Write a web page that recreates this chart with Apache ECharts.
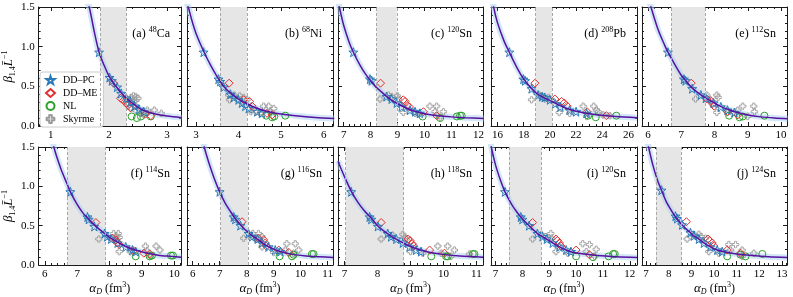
<!DOCTYPE html>
<html><head><meta charset="utf-8">
<script src="https://cdn.jsdelivr.net/npm/echarts@6/dist/echarts.min.js"></script>
<style>html,body{margin:0;padding:0;background:#fff}#c{width:793px;height:297px}</style>
</head><body><div id="c"></div>
<script>
// ---------- panel meta ----------
const panelTags = ['(a)','(b)','(c)','(d)','(e)','(f)','(g)','(h)','(i)','(j)'];
const massNumbers = ['48','68','120','208','112','114','116','118','120','124'];
const elements = ['Ca','Ni','Sn','Pb','Sn','Sn','Sn','Sn','Sn','Sn'];
const xMins = [0.79, 2.79, 6.79, 15.5, 5.82, 5.81, 5.79, 6.8, 6.83, 6.82];
const xMaxs = [3.24, 6.22, 12.17, 26.65, 10.18, 10.21, 11.2, 11.2, 12.27, 13.22];
const xMajorTicks = [[1,2,3],[3,4,5,6],[7,8,9,10,11,12],[16,18,20,22,24,26],[6,7,8,9,10],
  [6,7,8,9,10],[6,7,8,9,10,11],[7,8,9,10,11],[7,8,9,10,11,12],[7,8,9,10,11,12,13]];
const xMinorSteps = [0.2,0.2,0.2,0.5,0.2,0.2,0.2,0.2,0.2,0.2];
const yTicks = [0, 0.5, 1.0, 1.5];
const bandLo = [1.85, 3.57, 8.22, 18.9, 6.7, 6.7, 7.03, 7.03, 7.5, 7.44];
const bandHi = [2.30, 4.20, 8.97, 20.17, 7.72, 7.88, 8.05, 8.79, 8.71, 8.56];
const seriesNames = ['DD\u2013PC','DD\u2013ME','NL','Skyrme'];

// ---------- fitted curves ----------
const curveA = [[1.60,1.62],[1.66,1.5],[1.75,1.18],[1.83,0.93],[1.92,0.76],[2.0,0.63],[2.1,0.52],[2.2,0.43],[2.3,0.35],[2.4,0.29],[2.5,0.235],[2.6,0.195],[2.8,0.15],[3.0,0.125],[3.25,0.105]];
const curveB = [[2.78,1.55],[2.82,1.5],[2.9,1.34],[3.0,1.17],[3.1,1.04],[3.2,0.92],[3.35,0.76],[3.5,0.62],[3.65,0.5],[3.8,0.42],[4.0,0.34],[4.2,0.28],[4.4,0.23],[4.7,0.18],[5.0,0.15],[5.4,0.125],[5.8,0.108],[6.25,0.095]];
const curveC = [[6.8,1.58],[6.84,1.5],[7.0,1.27],[7.2,1.06],[7.36,0.93],[7.6,0.77],[7.8,0.66],[8.0,0.57],[8.2,0.49],[8.4,0.43],[8.6,0.37],[8.8,0.32],[9.0,0.28],[9.3,0.23],[9.6,0.19],[10.0,0.155],[10.5,0.13],[11.0,0.115],[11.5,0.105],[12.2,0.095]];
const curveD = [[15.5,1.72],[15.7,1.5],[16.0,1.3],[16.5,1.07],[16.9,0.93],[17.5,0.73],[18.0,0.59],[18.5,0.49],[19.0,0.41],[19.5,0.36],[20.0,0.32],[20.5,0.28],[21.0,0.24],[21.5,0.21],[22.0,0.185],[23.0,0.155],[24.0,0.135],[25.0,0.12],[26.65,0.105]];
const curveE = [[6.0,1.65],[6.09,1.5],[6.3,1.22],[6.5,1.02],[6.6,0.93],[6.8,0.78],[7.0,0.64],[7.1,0.59],[7.3,0.49],[7.5,0.42],[7.7,0.36],[8.0,0.29],[8.2,0.245],[8.4,0.21],[8.6,0.18],[9.0,0.14],[9.4,0.115],[9.8,0.1],[10.2,0.09]];
const curveF = [[6.2,1.7],[6.28,1.5],[6.5,1.22],[6.7,1.02],[6.79,0.93],[7.0,0.77],[7.2,0.65],[7.32,0.6],[7.5,0.52],[7.7,0.45],[7.85,0.4],[8.05,0.34],[8.25,0.29],[8.5,0.235],[8.8,0.19],[9.1,0.155],[9.5,0.125],[9.9,0.11],[10.22,0.1]];
const curveG = [[6.38,1.6],[6.43,1.5],[6.6,1.3],[6.8,1.1],[7.0,0.93],[7.2,0.79],[7.4,0.68],[7.6,0.58],[7.8,0.5],[8.07,0.41],[8.3,0.35],[8.55,0.29],[8.8,0.235],[9.05,0.195],[9.3,0.165],[9.7,0.135],[10.2,0.115],[10.7,0.105],[11.2,0.095]];
const curveH = [[6.8,1.32],[7.0,1.12],[7.2,0.94],[7.4,0.8],[7.6,0.69],[7.8,0.6],[8.0,0.5],[8.2,0.43],[8.4,0.37],[8.6,0.32],[8.8,0.275],[9.0,0.235],[9.3,0.19],[9.6,0.16],[10.0,0.135],[10.5,0.115],[11.2,0.1]];
const curveI = [[6.8,1.58],[6.84,1.5],[7.0,1.27],[7.2,1.06],[7.35,0.93],[7.6,0.77],[7.8,0.67],[7.94,0.61],[8.1,0.55],[8.25,0.5],[8.4,0.45],[8.56,0.4],[8.75,0.36],[8.9,0.33],[9.13,0.28],[9.38,0.23],[9.63,0.19],[9.9,0.16],[10.3,0.14],[10.8,0.12],[11.5,0.105],[12.27,0.095]];
const curveJ = [[7.05,1.6],[7.11,1.5],[7.3,1.27],[7.5,1.08],[7.68,0.95],[7.9,0.8],[8.1,0.7],[8.3,0.61],[8.59,0.51],[8.8,0.45],[8.96,0.41],[9.11,0.37],[9.33,0.33],[9.55,0.28],[9.84,0.23],[10.14,0.19],[10.5,0.165],[11.0,0.14],[11.7,0.12],[12.4,0.105],[13.22,0.095]];

// ---------- DD-PC ----------
const ddpcA = [[1.83,0.93],[2.01,0.61],[2.05,0.57],[2.14,0.49],[2.21,0.41],[2.3,0.35],[2.37,0.3],[2.44,0.25],[2.52,0.21],[2.6,0.18]];
const ddpcB = [[3.18,0.93],[3.53,0.59],[3.57,0.56],[3.65,0.49],[3.81,0.4],[3.89,0.36],[4.0,0.33],[4.08,0.29],[4.16,0.25],[4.24,0.22],[4.44,0.18],[4.55,0.16]];
const ddpcC = [[7.36,0.93],[7.98,0.59],[8.04,0.57],[8.59,0.37],[8.78,0.34],[8.97,0.29],[9.15,0.24],[9.46,0.2],[9.65,0.18],[9.83,0.16]];
const ddpcD = [[16.9,0.93],[17.97,0.59],[18.1,0.57],[18.6,0.47],[19.1,0.39],[19.4,0.37],[19.6,0.36],[20.0,0.33],[20.4,0.28],[20.8,0.24],[21.5,0.2],[22.0,0.18],[22.8,0.16]];
const ddpcE = [[6.6,0.93],[7.08,0.59],[7.13,0.57],[7.33,0.47],[7.59,0.39],[7.74,0.35],[7.97,0.29],[8.19,0.24],[8.39,0.2],[8.6,0.17]];
const ddpcF = [[6.79,0.93],[7.32,0.61],[7.36,0.58],[7.53,0.49],[7.85,0.4],[7.93,0.36],[8.05,0.33],[8.25,0.28],[8.5,0.23],[8.71,0.19],[8.81,0.17]];
const ddpcG = [[7.0,0.93],[7.52,0.61],[7.58,0.58],[7.77,0.5],[8.07,0.4],[8.2,0.36],[8.41,0.33],[8.57,0.28],[8.81,0.23],[9.06,0.19],[9.25,0.17]];
const ddpcH = [[7.2,0.93],[7.76,0.61],[7.81,0.58],[8.01,0.49],[8.31,0.4],[8.41,0.36],[8.57,0.33],[8.77,0.28],[8.97,0.23],[9.17,0.19],[9.32,0.17]];
const ddpcI = [[7.35,0.93],[7.94,0.61],[8.0,0.58],[8.25,0.5],[8.56,0.4],[8.75,0.36],[8.91,0.33],[9.13,0.28],[9.38,0.23],[9.63,0.19],[9.81,0.17]];
const ddpcJ = [[7.68,0.95],[8.3,0.62],[8.37,0.59],[8.59,0.51],[8.96,0.41],[9.11,0.37],[9.33,0.33],[9.55,0.28],[9.84,0.23],[10.14,0.19],[10.36,0.17]];

// ---------- DD-ME ----------
const ddmeA = [[2.08,0.54],[2.2,0.35],[2.25,0.32],[2.3,0.29],[2.33,0.26],[2.37,0.23],[2.63,0.15],[2.72,0.13]];
const ddmeB = [[3.78,0.54],[4.12,0.33],[4.26,0.31],[4.32,0.25],[4.67,0.16],[4.79,0.14]];
const ddmeC = [[8.37,0.54],[9.21,0.33],[9.28,0.31],[9.36,0.26],[9.44,0.24],[9.96,0.18],[10.45,0.13]];
const ddmeD = [[18.86,0.54],[20.38,0.34],[20.89,0.31],[21.09,0.29],[21.32,0.25],[22.84,0.18],[24.31,0.13]];
const ddmeE = [[7.3,0.54],[7.77,0.34],[7.89,0.32],[7.94,0.28],[7.99,0.25],[8.39,0.18],[8.7,0.14]];
const ddmeF = [[7.58,0.54],[8.1,0.34],[8.2,0.32],[8.25,0.28],[8.3,0.26],[8.74,0.18],[9.06,0.15],[9.24,0.14]];
const ddmeG = [[7.83,0.55],[8.44,0.34],[8.63,0.32],[8.69,0.28],[8.73,0.24],[9.19,0.19],[9.56,0.16]];
const ddmeH = [[8.11,0.54],[8.92,0.33],[8.99,0.31],[9.05,0.27],[9.1,0.24],[9.58,0.19],[10.03,0.15]];
const ddmeI = [[8.38,0.54],[9.25,0.33],[9.31,0.31],[9.38,0.28],[9.44,0.24],[10.0,0.19],[10.5,0.13]];
const ddmeJ = [[8.78,0.55],[9.73,0.33],[9.81,0.31],[9.92,0.28],[9.99,0.24],[10.58,0.19],[11.17,0.15]];

// ---------- NL ----------
const nlA = [[2.39,0.12],[2.48,0.10],[2.55,0.12],[2.72,0.12]];
const nlB = [[4.65,0.13],[4.79,0.11],[4.84,0.12],[5.1,0.13]];
const nlC = [[9.93,0.12],[10.58,0.10],[11.2,0.12],[11.32,0.13],[11.38,0.13]];
const nlD = [[22.92,0.13],[23.5,0.11],[25.07,0.13]];
const nlE = [[8.44,0.13],[8.75,0.11],[8.85,0.12],[9.5,0.13]];
const nlF = [[8.81,0.11],[9.24,0.11],[9.31,0.12],[9.9,0.12],[9.96,0.12]];
const nlG = [[9.22,0.11],[9.68,0.11],[9.74,0.13],[10.42,0.14],[10.48,0.14]];
const nlH = [[9.63,0.11],[10.08,0.11],[10.13,0.11],[10.89,0.14],[10.94,0.14]];
const nlI = [[10.0,0.11],[10.63,0.1],[11.21,0.11],[11.38,0.14],[11.44,0.14]];
const nlJ = [[10.58,0.11],[11.17,0.13],[11.39,0.11],[12.13,0.14]];

// ---------- Skyrme ----------
const skA = [[2.35,0.33],[2.38,0.36],[2.42,0.38],[2.46,0.37],[2.5,0.35],[2.42,0.31],[2.46,0.32],[2.38,0.22],[2.47,0.19],[2.55,0.16],[2.6,0.14],[2.66,0.2],[2.78,0.2],[2.9,0.16]];
const skB = [[3.77,0.39],[3.9,0.39],[4.03,0.38],[4.12,0.36],[3.79,0.33],[4.2,0.33],[4.29,0.18],[4.41,0.18],[4.59,0.25],[4.71,0.25],[4.83,0.22],[4.51,0.16],[4.75,0.18]];
const skC = [[8.35,0.34],[8.66,0.39],[8.78,0.37],[8.99,0.38],[9.03,0.34],[9.21,0.17],[9.65,0.16],[9.77,0.15],[10.2,0.25],[10.45,0.25],[10.7,0.18],[10.39,0.18],[10.58,0.11]];
const skD = [[18.6,0.33],[19.19,0.39],[19.55,0.37],[19.88,0.36],[19.62,0.34],[20.71,0.17],[21.52,0.16],[22.54,0.25],[23.35,0.25],[23.55,0.2],[23.68,0.18],[24.06,0.14],[24.57,0.13],[22.8,0.12]];
const skE = [[7.43,0.34],[7.77,0.39],[8.07,0.39],[8.11,0.36],[8.07,0.17],[8.39,0.17],[8.85,0.25],[9.18,0.25],[9.2,0.18],[9.0,0.12],[8.7,0.2]];
const skF = [[7.67,0.33],[8.13,0.4],[8.27,0.4],[8.2,0.36],[8.3,0.35],[8.3,0.17],[8.64,0.17],[9.11,0.24],[9.44,0.24],[9.56,0.19],[9.16,0.18],[9.26,0.11]];
const skG = [[7.89,0.34],[8.23,0.4],[8.44,0.4],[8.57,0.36],[8.32,0.33],[8.57,0.23],[9.0,0.16],[9.49,0.27],[9.8,0.27],[9.93,0.19],[9.43,0.19],[9.74,0.15]];
const skH = [[8.11,0.33],[8.46,0.38],[8.77,0.39],[8.82,0.35],[8.87,0.33],[9.0,0.17],[9.37,0.15],[9.83,0.24],[10.13,0.24],[10.33,0.19],[9.93,0.15],[10.23,0.11],[10.79,0.14]];
const skI = [[8.38,0.33],[8.71,0.39],[8.88,0.36],[9.06,0.4],[9.09,0.34],[9.25,0.17],[9.69,0.15],[10.25,0.27],[10.5,0.26],[10.75,0.2],[10.38,0.17],[10.69,0.11]];
const skJ = [[8.81,0.33],[9.11,0.39],[9.33,0.39],[9.43,0.36],[9.62,0.34],[9.77,0.17],[10.21,0.15],[10.65,0.26],[10.95,0.26],[10.73,0.19],[11.24,0.19],[11.76,0.15],[11.24,0.11]];

const curves = [curveA,curveB,curveC,curveD,curveE,curveF,curveG,curveH,curveI,curveJ];
const ddpc = [ddpcA,ddpcB,ddpcC,ddpcD,ddpcE,ddpcF,ddpcG,ddpcH,ddpcI,ddpcJ];
const ddme = [ddmeA,ddmeB,ddmeC,ddmeD,ddmeE,ddmeF,ddmeG,ddmeH,ddmeI,ddmeJ];
const nl = [nlA,nlB,nlC,nlD,nlE,nlF,nlG,nlH,nlI,nlJ];
const sk = [skA,skB,skC,skD,skE,skF,skG,skH,skI,skJ];

// ---------- layout / style ----------
const FONT = '"Liberation Serif","DejaVu Serif",serif';
const colLeft = [36,187,338,491,642], colWidth = [145,146,145,146,145];
const rowTop = [7,147], rowHeight = [119,118];
const frame = '#1a1a1a';
const STAR = 'path://M0,-10L2.35,-3.24L9.51,-3.09L3.8,1.24L5.88,8.09L0,4L-5.88,8.09L-3.8,1.24L-9.51,-3.09L-2.35,-3.24Z';
const PLUS = 'path://M-1.1,-3.2Q0,-3.6 1.1,-3.2L1.1,-1.1L3.2,-1.1Q3.6,0 3.2,1.1L1.1,1.1L1.1,3.2Q0,3.6 -1.1,3.2L-1.1,1.1L-3.2,1.1Q-3.6,0 -3.2,-1.1L-1.1,-1.1Z';
const markerStyle = [
  {sym: STAR, size: 9, color: '#2a7ab8', bw: 1.0},
  {sym: 'diamond', size: 8, color: '#e03030', bw: 1.0},
  {sym: 'circle', size: 7, color: '#2ca02c', bw: 1.0},
  {sym: PLUS, size: 6.5, color: '#9a9a9a', bw: 0.9}
];

function minorValues(p) {
  const out = [], st = xMinorSteps[p];
  const start = Math.ceil(xMins[p] / st - 1e-9);
  for (let k = start; k * st <= xMaxs[p] + 1e-9; k++) out.push(+(k * st).toFixed(4));
  return out;
}

const grids = [], xAxes = [], yAxes = [], series = [], titles = [];
for (let p = 0; p < 10; p++) {
  const r = Math.floor(p / 5), c = p % 5;
  grids.push({left: colLeft[c], top: rowTop[r], width: colWidth[c], height: rowHeight[r]});
  const xi = xAxes.length, yi = yAxes.length;
  const mins = minorValues(p);
  const baseX = {type: 'value', gridIndex: p, min: xMins[p], max: xMaxs[p], splitLine: {show: false}};
  xAxes.push(Object.assign({}, baseX, {
    position: 'bottom',
    axisLine: {show: true, onZero: false, lineStyle: {color: frame, width: 1}},
    axisTick: {show: true, inside: true, length: 4, customValues: xMajorTicks[p], lineStyle: {color: frame}},
    axisLabel: {show: true, customValues: xMajorTicks[p], margin: 4, color: '#000', fontFamily: FONT, fontSize: 11},
    name: r === 1 ? '{i|\u03b1}{sub|D}{n| (fm}{sup|3}{n|)}' : '',
    nameLocation: 'middle', nameGap: 15,
    nameTextStyle: {color: '#000', fontFamily: FONT, fontSize: 12, rich: {
      i: {fontFamily: FONT, fontSize: 13, fontStyle: 'italic', lineHeight: 15, color: '#000'},
      n: {fontFamily: FONT, fontSize: 12, lineHeight: 15, color: '#000'},
      sub: {fontFamily: FONT, fontSize: 8, fontStyle: 'italic', lineHeight: 8, verticalAlign: 'bottom', color: '#000'},
      sup: {fontFamily: FONT, fontSize: 8, lineHeight: 8, verticalAlign: 'top', color: '#000'}
    }}
  }));
  xAxes.push(Object.assign({}, baseX, {
    position: 'bottom', axisLine: {show: false, onZero: false},
    axisTick: {show: true, inside: true, length: 2, customValues: mins, lineStyle: {color: frame}},
    axisLabel: {show: false}
  }));
  xAxes.push(Object.assign({}, baseX, {
    position: 'top',
    axisLine: {show: true, onZero: false, lineStyle: {color: frame, width: 1}},
    axisTick: {show: true, inside: true, length: 4, customValues: xMajorTicks[p], lineStyle: {color: frame}},
    axisLabel: {show: false}
  }));
  xAxes.push(Object.assign({}, baseX, {
    position: 'top', axisLine: {show: false, onZero: false},
    axisTick: {show: true, inside: true, length: 2, customValues: mins, lineStyle: {color: frame}},
    axisLabel: {show: false}
  }));
  const baseY = {type: 'value', gridIndex: p, min: 0, max: 1.5, interval: 0.5, splitLine: {show: false},
    axisLine: {show: true, onZero: false, lineStyle: {color: frame, width: 1}},
    axisTick: {show: true, inside: true, length: 4, lineStyle: {color: frame}},
    minorTick: {show: true, splitNumber: 5, length: 2, lineStyle: {color: frame}},
    minorSplitLine: {show: false}};
  yAxes.push(Object.assign({}, baseY, {
    position: 'left',
    axisLabel: {show: c === 0, margin: 4, color: '#000', fontFamily: FONT, fontSize: 11,
      customValues: yTicks, formatter: v => v.toFixed(1)},
    name: c === 0 ? '{b|\u03b2}{sub|1.4}{b|L\u0304}{sup|\u22121}' : '',
    nameLocation: 'middle', nameGap: 17,
    nameTextStyle: {color: '#000', fontFamily: FONT, fontSize: 12, rich: {
      b: {fontFamily: FONT, fontSize: 13, fontStyle: 'italic', lineHeight: 16, color: '#000'},
      sub: {fontFamily: FONT, fontSize: 8, lineHeight: 8, verticalAlign: 'bottom', color: '#000'},
      sup: {fontFamily: FONT, fontSize: 8, lineHeight: 8, verticalAlign: 'top', color: '#000'}
    }}
  }));
  yAxes.push(Object.assign({}, baseY, {position: 'right', axisLabel: {show: false}}));

  series.push({
    type: 'line', xAxisIndex: xi, yAxisIndex: yi, data: curves[p], smooth: 0.3,
    symbol: 'none', silent: true, z: 1,
    lineStyle: {color: 'rgba(165,208,242,0.5)', width: 6},
    markArea: {silent: true, itemStyle: {color: '#e6e6e6'},
      data: [[{xAxis: bandLo[p]}, {xAxis: bandHi[p]}]]},
    markLine: {silent: true, symbol: ['none','none'], label: {show: false},
      lineStyle: {color: '#a8a8a8', width: 1, type: [3, 2]},
      data: [{xAxis: bandLo[p]}, {xAxis: bandHi[p]}]}
  });
  const sets = [ddpc[p], ddme[p], nl[p], sk[p]];
  for (let s = 3; s >= 0; s--) {
    const m = markerStyle[s];
    series.push({
      type: 'scatter', name: seriesNames[s], xAxisIndex: xi, yAxisIndex: yi, data: sets[s],
      symbol: m.sym, symbolSize: m.size, z: 3,
      itemStyle: {color: 'rgba(255,255,255,0)', borderColor: m.color, borderWidth: m.bw, opacity: 1}
    });
  }
  series.push({
    type: 'line', xAxisIndex: xi, yAxisIndex: yi, data: curves[p], smooth: 0.3,
    symbol: 'none', silent: true, z: 4,
    lineStyle: {color: '#5612a0', width: 1.5}
  });
  titles.push({
    text: '{n|' + panelTags[p] + ' }{s|' + massNumbers[p] + '}{n|' + elements[p] + '}',
    right: 793 - (colLeft[c] + colWidth[c]) + 11, top: rowTop[r] + 19, padding: 0,
    textStyle: {fontFamily: FONT, fontSize: 12, fontWeight: 'normal', color: '#000', rich: {
      n: {fontFamily: FONT, fontSize: 12, lineHeight: 15, color: '#000'},
      s: {fontFamily: FONT, fontSize: 8, lineHeight: 9, verticalAlign: 'top', color: '#000'}
    }}
  });
}

const chart = echarts.init(document.getElementById('c'), null, {renderer: 'canvas'});
chart.setOption({
  animation: false,
  backgroundColor: '#fff',
  title: titles,
  grid: grids,
  xAxis: xAxes,
  yAxis: yAxes,
  legend: {
    data: seriesNames, orient: 'vertical', left: 40, top: 72,
    backgroundColor: '#fff', borderColor: '#cccccc', borderWidth: 1, borderRadius: 3,
    padding: [3, 6, 3, 5], itemGap: 3, itemWidth: 9, itemHeight: 8,
    textStyle: {fontFamily: FONT, fontSize: 10, color: '#000', padding: [0,0,0,3]},
    selectedMode: false
  },
  series: series
});
</script></body></html>
